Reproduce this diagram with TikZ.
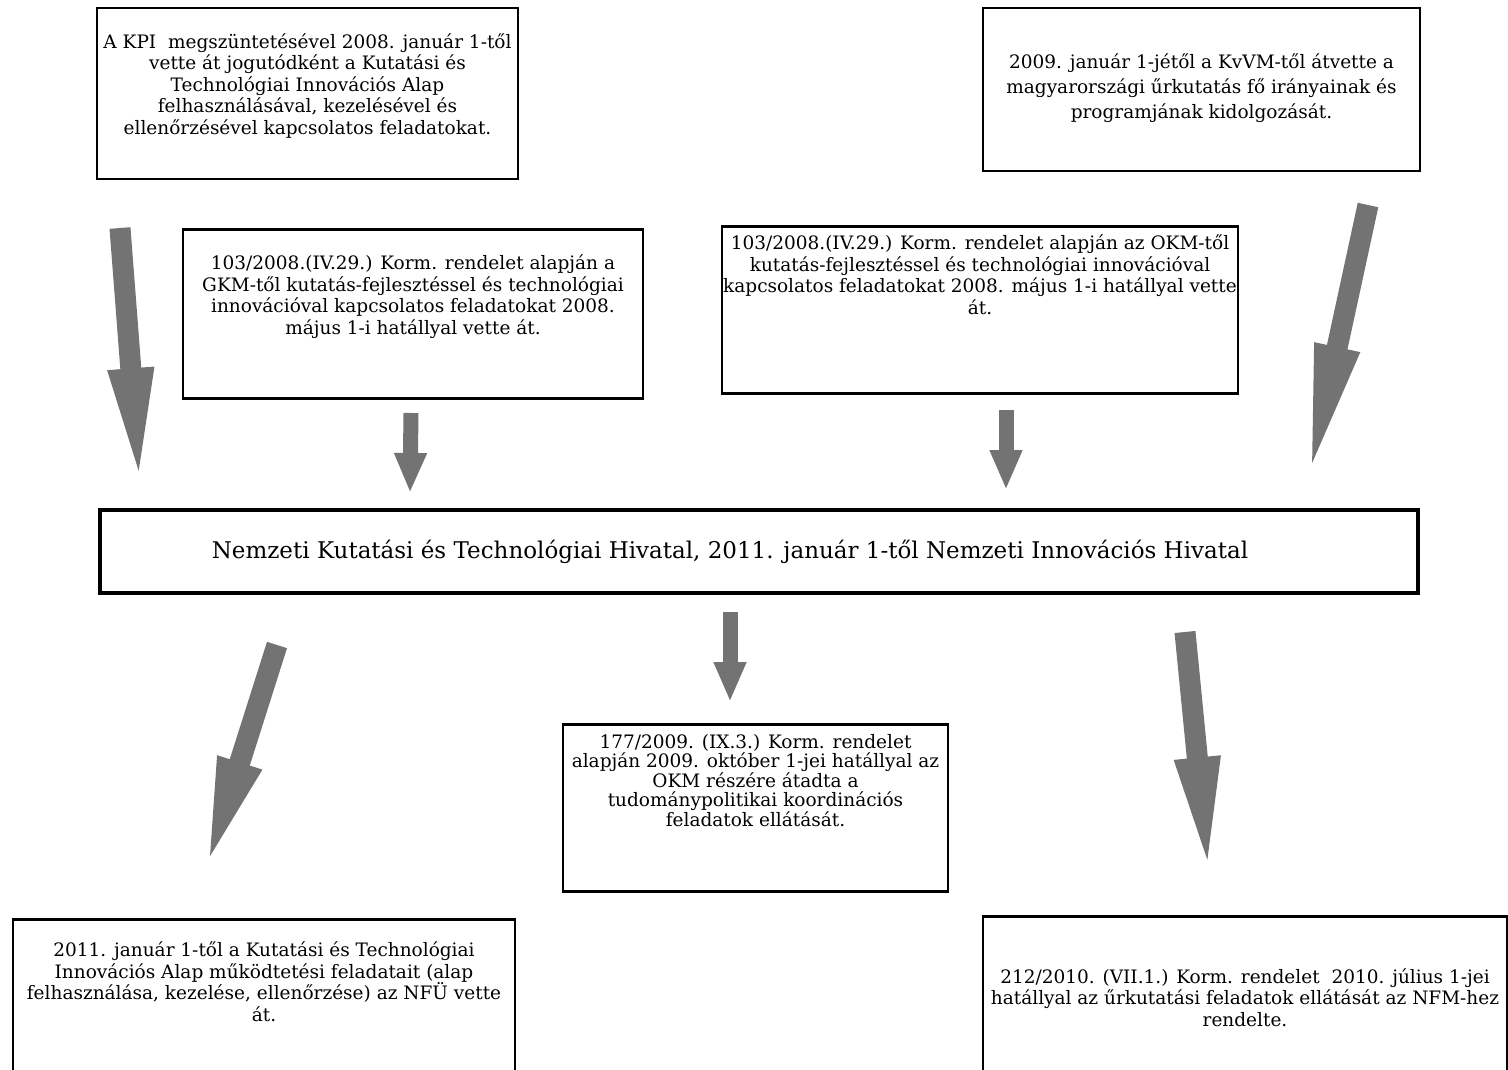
\documentclass[tikz,border=0pt]{standalone}
\usepackage{fontspec}
\setmainfont{DejaVu Serif}
\usetikzlibrary{arrows.meta}

\tikzset{
    box/.style={draw, line width=2.5pt, align=center, anchor=north, inner xsep=1pt, inner ysep=8pt,
        font=\fontsize{18.5}{21.5}\selectfont},
    bigarrow/.style={line width=21pt, black!55, -{Triangle[length=120pt,width=40pt]}},
    smallarrow/.style={line width=15pt, black!55, -{Triangle[length=40pt,width=30pt]}}
}

\begin{document}
\begin{tikzpicture}[x=1pt,y=-1pt]
    \useasboundingbox (0,0) rectangle (1508,1070);

    % Top row
    \node[box, minimum width=421pt, text height=118pt, text depth=37pt] (kpi) at (307.5,7)
        {A KPI\ \ megszüntetésével 2008. január 1-től\\
         vette át jogutódként a Kutatási és\\
         Technológiai Innovációs Alap\\
         felhasználásával, kezelésével és\\
         ellenőrzésével kapcsolatos feladatokat.};
    \node[box, minimum width=437pt, text height=102pt, text depth=45pt,
        font=\fontsize{18.5}{25}\selectfont] (kvvm) at (1201.5,7)
        {2009. január 1-jétől a KvVM-től átvette a\\
         magyarországi űrkutatás fő irányainak és\\
         programjának kidolgozását.};

    % Second row
    \node[box, minimum width=460pt, text height=97pt, text depth=56pt] (gkm) at (413,228)
        {103/2008.(IV.29.) Korm. rendelet alapján a\\
         GKM-től kutatás-fejlesztéssel és technológiai\\
         innovációval kapcsolatos feladatokat 2008.\\
         május 1-i hatállyal vette át.};
    \node[box, minimum width=516pt, text height=80pt, text depth=71pt] (okm) at (980,225)
        {103/2008.(IV.29.) Korm. rendelet alapján az OKM-től\\
         kutatás-fejlesztéssel és technológiai innovációval\\
         kapcsolatos feladatokat 2008. május 1-i hatállyal vette\\
         át.};

    % Main box
    \node[draw, line width=4pt, minimum width=1318pt, minimum height=83pt,
        font=\fontsize{23}{28}\selectfont] (nkth) at (759,551.5)
        {Nemzeti Kutatási és Technológiai Hivatal, 2011. január 1-től Nemzeti Innovációs Hivatal\hspace*{58pt}};

    % Lower boxes
    \node[box, minimum width=385pt, text height=94pt, text depth=57pt,
        font=\fontsize{18.5}{19.5}\selectfont] (szp) at (755.5,723)
        {177/2009. (IX.3.) Korm. rendelet\\
         alapján 2009. október 1-jei hatállyal az\\
         OKM részére átadta a\\
         tudománypolitikai koordinációs\\
         feladatok ellátását.};
    \node[box, minimum width=502pt, text height=94pt, text depth=57pt] (nfu) at (264,918)
        {2011. január 1-től a Kutatási és Technológiai\\
         Innovációs Alap működtetési feladatait (alap\\
         felhasználása, kezelése, ellenőrzése) az NFÜ vette\\
         át.};
    \node[box, minimum width=524pt, text height=102pt, text depth=52pt] (nfm) at (1245,915)
        {212/2010. (VII.1.) Korm. rendelet\ \ 2010. július 1-jei\\
         hatállyal az űrkutatási feladatok ellátását az NFM-hez\\
         rendelte.};

    % Arrow ends
    \coordinate (a1) at (120,228);   \coordinate (b1) at (140,488);
    \coordinate (a2) at (411,413);   \coordinate (b2) at (410,493);
    \coordinate (a3) at (1006,410);  \coordinate (b3) at (1006,490);
    \coordinate (a4) at (1368,205);  \coordinate (b4) at (1308,482);
    \coordinate (a5) at (730,612);   \coordinate (b5) at (730,702);
    \coordinate (a6) at (277,645);   \coordinate (b6) at (205,872);
    \coordinate (a7) at (1185,632);  \coordinate (b7) at (1209,877);

    % Arrows into the main box
    \draw[bigarrow] (a1) -- (b1);
    \draw[smallarrow] (a2) -- (b2);
    \draw[smallarrow] (a3) -- (b3);
    \draw[bigarrow, -{Triangle[length=138pt,width=40pt]}] (a4) -- (b4);
    % Arrows out of it
    \draw[smallarrow] (a5) -- (b5);
    \draw[bigarrow, -{Triangle[length=115pt,width=40pt]}] (a6) -- (b6);
    \draw[bigarrow] (a7) -- (b7);

\end{tikzpicture}
\end{document}
